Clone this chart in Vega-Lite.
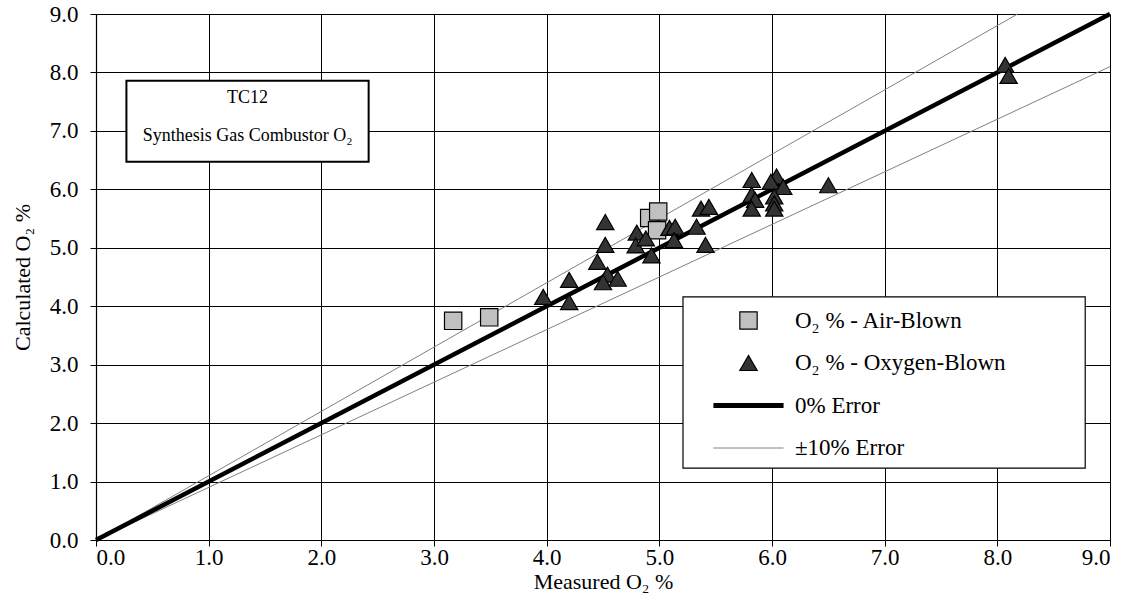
{
  "$schema": "https://vega.github.io/schema/vega-lite/v6.json",
  "width": 1014,
  "height": 526,
  "autosize": {"type": "none"},
  "padding": {"left": 96, "top": 14, "right": 23, "bottom": 53},
  "background": "white",
  "config": {
    "font": "Liberation Serif",
    "view": {"stroke": null},
    "axis": {
      "labelFont": "Liberation Serif",
      "titleFont": "Liberation Serif",
      "labelFontSize": 23,
      "titleFontSize": 22,
      "titleFontWeight": "normal",
      "labelColor": "#000000",
      "titleColor": "#000000",
      "domainColor": "#000000",
      "tickColor": "#000000",
      "gridColor": "#000000",
      "gridOpacity": 1,
      "gridWidth": 1,
      "tickSize": 6,
      "domainWidth": 1.2
    },
    "legend": {
      "orient": "none",
      "legendX": 587,
      "legendY": 283,
      "padding": 12,
      "strokeColor": null,
      "fillColor": null,
      "symbolSize": 300,
      "rowPadding": 18.5,
      "symbolOffset": 42,
      "labelOffset": 35,
      "labelLimit": 0,
      "labelFont": "Liberation Serif",
      "labelFontSize": 23,
      "labelColor": "#000000",
      "symbolOpacity": 1
    }
  },
  "datasets": {
    "points": [
      {"series": "O₂ % - Air-Blown", "x": 3.17, "y": 3.75},
      {"series": "O₂ % - Air-Blown", "x": 3.49, "y": 3.81},
      {"series": "O₂ % - Air-Blown", "x": 4.91, "y": 5.51},
      {"series": "O₂ % - Air-Blown", "x": 4.99, "y": 5.62},
      {"series": "O₂ % - Air-Blown", "x": 4.98, "y": 5.30},
      {"series": "O₂ % - Oxygen-Blown", "x": 3.97, "y": 4.16},
      {"series": "O₂ % - Oxygen-Blown", "x": 4.20, "y": 4.45},
      {"series": "O₂ % - Oxygen-Blown", "x": 4.20, "y": 4.07},
      {"series": "O₂ % - Oxygen-Blown", "x": 4.45, "y": 4.76},
      {"series": "O₂ % - Oxygen-Blown", "x": 4.52, "y": 5.44},
      {"series": "O₂ % - Oxygen-Blown", "x": 4.52, "y": 5.05},
      {"series": "O₂ % - Oxygen-Blown", "x": 4.54, "y": 4.54},
      {"series": "O₂ % - Oxygen-Blown", "x": 4.50, "y": 4.41},
      {"series": "O₂ % - Oxygen-Blown", "x": 4.63, "y": 4.47},
      {"series": "O₂ % - Oxygen-Blown", "x": 4.80, "y": 5.26},
      {"series": "O₂ % - Oxygen-Blown", "x": 4.79, "y": 5.04},
      {"series": "O₂ % - Oxygen-Blown", "x": 4.88, "y": 5.16},
      {"series": "O₂ % - Oxygen-Blown", "x": 4.93, "y": 4.87},
      {"series": "O₂ % - Oxygen-Blown", "x": 5.09, "y": 5.34},
      {"series": "O₂ % - Oxygen-Blown", "x": 5.14, "y": 5.36},
      {"series": "O₂ % - Oxygen-Blown", "x": 5.13, "y": 5.13},
      {"series": "O₂ % - Oxygen-Blown", "x": 5.33, "y": 5.36},
      {"series": "O₂ % - Oxygen-Blown", "x": 5.37, "y": 5.67},
      {"series": "O₂ % - Oxygen-Blown", "x": 5.44, "y": 5.70},
      {"series": "O₂ % - Oxygen-Blown", "x": 5.41, "y": 5.05},
      {"series": "O₂ % - Oxygen-Blown", "x": 5.82, "y": 6.16},
      {"series": "O₂ % - Oxygen-Blown", "x": 5.82, "y": 5.91},
      {"series": "O₂ % - Oxygen-Blown", "x": 5.85, "y": 5.82},
      {"series": "O₂ % - Oxygen-Blown", "x": 5.82, "y": 5.67},
      {"series": "O₂ % - Oxygen-Blown", "x": 6.04, "y": 6.22},
      {"series": "O₂ % - Oxygen-Blown", "x": 5.99, "y": 6.13},
      {"series": "O₂ % - Oxygen-Blown", "x": 6.10, "y": 6.04},
      {"series": "O₂ % - Oxygen-Blown", "x": 6.02, "y": 5.88},
      {"series": "O₂ % - Oxygen-Blown", "x": 6.02, "y": 5.76},
      {"series": "O₂ % - Oxygen-Blown", "x": 6.02, "y": 5.67},
      {"series": "O₂ % - Oxygen-Blown", "x": 6.50, "y": 6.07},
      {"series": "O₂ % - Oxygen-Blown", "x": 8.07, "y": 8.13},
      {"series": "O₂ % - Oxygen-Blown", "x": 8.10, "y": 7.94}
    ],
    "zero": [
      {"x": 0, "y": 0},
      {"x": 9, "y": 9}
    ],
    "ten": [
      {"line": "+10%", "x": 0, "y": 0},
      {"line": "+10%", "x": 8.18, "y": 9},
      {"line": "-10%", "x": 0, "y": 0},
      {"line": "-10%", "x": 9, "y": 8.1}
    ]
  },
  "layer": [
    {
      "data": {"values": [{}]},
      "mark": {"type": "rect", "fill": "white", "stroke": "#000000", "strokeWidth": 2},
      "encoding": {
        "x": {"datum": 0.27, "type": "quantitative", "scale": {"domain": [0, 9], "nice": false}, "axis": {"values": [0,1,2,3,4,5,6,7,8,9], "format": ".1f", "grid": true, "title": "Measured O₂ %", "labelPadding": 0, "titlePadding": 2}},
        "x2": {"datum": 2.42},
        "y": {"datum": 7.86, "type": "quantitative", "scale": {"domain": [0, 9], "nice": false}, "axis": {"values": [0,1,2,3,4,5,6,7,8,9], "format": ".1f", "grid": true, "title": "Calculated O₂ %", "labelPadding": 12, "titlePadding": 15}},
        "y2": {"datum": 6.47}
      }
    },
    {
      "data": {"values": [{}]},
      "mark": {"type": "text", "font": "Liberation Serif", "fontSize": 18, "color": "#000000", "align": "center", "baseline": "middle", "lineHeight": 38},
      "encoding": {
        "x": {"datum": 1.345, "type": "quantitative"},
        "y": {"datum": 7.56, "type": "quantitative"},
        "text": {"value": ["TC12", "Synthesis Gas Combustor O₂"]}
      }
    },
    {
      "data": {"values": [{}]},
      "mark": {"type": "rect", "fill": "white", "stroke": "#000000", "strokeWidth": 1.2},
      "encoding": {
        "x": {"datum": 5.21, "type": "quantitative"},
        "x2": {"datum": 8.78},
        "y": {"datum": 4.16, "type": "quantitative"},
        "y2": {"datum": 1.23}
      }
    },
    {
      "data": {"name": "ten"},
      "mark": {"type": "line", "color": "#808080", "strokeWidth": 1},
      "encoding": {
        "x": {"field": "x", "type": "quantitative"},
        "y": {"field": "y", "type": "quantitative"},
        "detail": {"field": "line"}
      }
    },
    {
      "data": {"name": "zero"},
      "mark": {"type": "line", "color": "#000000", "strokeWidth": 4.5},
      "encoding": {
        "x": {"field": "x", "type": "quantitative"},
        "y": {"field": "y", "type": "quantitative"}
      }
    },
    {
      "data": {"name": "points"},
      "mark": {"type": "point", "filled": true, "opacity": 1, "size": 300},
      "encoding": {
        "x": {"field": "x", "type": "quantitative"},
        "y": {"field": "y", "type": "quantitative"},
        "fill": {
          "field": "series", "type": "nominal", "legend": {"title": null},
          "scale": {"domain": ["O₂ % - Air-Blown", "O₂ % - Oxygen-Blown", "0% Error", "±10% Error"], "range": ["#c0c0c0", "#333333", "#000000", "#808080"]}
        },
        "stroke": {
          "field": "series", "type": "nominal", "legend": {"title": null},
          "scale": {"domain": ["O₂ % - Air-Blown", "O₂ % - Oxygen-Blown", "0% Error", "±10% Error"], "range": ["#000000", "#000000", "#000000", "#808080"]}
        },
        "strokeWidth": {
          "field": "series", "type": "nominal", "legend": {"title": null},
          "scale": {"type": "ordinal", "domain": ["O₂ % - Air-Blown", "O₂ % - Oxygen-Blown", "0% Error", "±10% Error"], "range": [1.2, 1.2, 5, 1]}
        },
        "shape": {
          "field": "series", "type": "nominal", "legend": {"title": null},
          "scale": {"domain": ["O₂ % - Air-Blown", "O₂ % - Oxygen-Blown", "0% Error", "±10% Error"], "range": ["square", "triangle-up", "M-4.05,0L4.05,0", "M-4.05,0L4.05,0"]}
        }
      }
    }
  ]
}
